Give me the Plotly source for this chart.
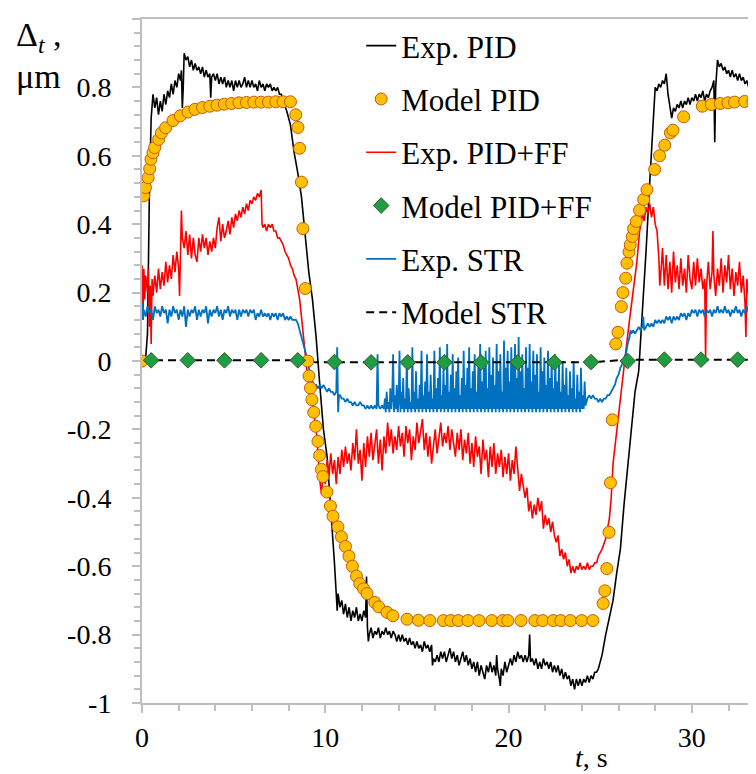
import plotly.graph_objects as go

# ---------------- data ----------------
x_tick_vals = [0, 10, 20, 30]
x_tick_text = ["0", "10", "20", "30"]
y_tick_vals = [-1, -0.8, -0.6, -0.4, -0.2, 0, 0.2, 0.4, 0.6, 0.8, 1]
y_tick_text = ["-1", "-0.8", "-0.6", "-0.4", "-0.2", "0", "0.2", "0.4", "0.6", "0.8", "1"]

# Exp. PID (black)  (t [s], delta [um])
exp_pid = [
    (0.0, 0.00), (0.1, 0.00), (0.2, 0.01), (0.3, 0.08), (0.4, 0.48), (0.5, 0.71), (0.6, 0.78),
    (0.7, 0.74), (0.8, 0.77), (0.9, 0.72), (1.0, 0.76), (1.1, 0.73), (1.2, 0.78), (1.3, 0.75),
    (1.4, 0.79), (1.5, 0.77), (1.6, 0.81), (1.7, 0.78), (1.8, 0.82), (1.9, 0.80), (2.0, 0.84),
    (2.1, 0.82), (2.15, 0.85), (2.2, 0.74), (2.25, 0.80), (2.3, 0.90), (2.4, 0.88), (2.5, 0.89),
    (2.6, 0.86), (2.7, 0.88), (2.8, 0.85), (2.9, 0.87), (3.0, 0.85), (3.1, 0.86), (3.2, 0.84),
    (3.3, 0.86), (3.4, 0.83), (3.5, 0.85), (3.6, 0.83), (3.7, 0.84), (3.75, 0.77), (3.8, 0.83),
    (3.9, 0.84), (4.0, 0.82), (4.1, 0.84), (4.2, 0.81), (4.3, 0.83), (4.4, 0.81), (4.5, 0.83),
    (4.6, 0.80), (4.7, 0.82), (4.8, 0.80), (4.9, 0.82), (5.0, 0.79), (5.1, 0.82), (5.2, 0.80),
    (5.3, 0.82), (5.4, 0.80), (5.5, 0.81), (5.6, 0.83), (5.7, 0.80), (5.8, 0.82), (5.9, 0.80),
    (6.0, 0.82), (6.1, 0.80), (6.2, 0.81), (6.3, 0.79), (6.4, 0.82), (6.5, 0.80), (6.6, 0.81),
    (6.7, 0.79), (6.8, 0.81), (6.9, 0.80), (7.0, 0.81), (7.1, 0.79), (7.2, 0.80), (7.3, 0.79),
    (7.4, 0.80), (7.5, 0.78), (7.6, 0.78),
    (7.7, 0.76), (7.9, 0.73), (8.1, 0.69), (8.3, 0.61), (8.5, 0.55), (8.7, 0.48), (8.9, 0.37),
    (9.1, 0.26), (9.3, 0.18), (9.5, 0.07), (9.7, -0.07), (9.9, -0.20), (10.1, -0.28),
    (10.3, -0.43), (10.5, -0.59), (10.65, -0.73),
    (10.7, -0.68), (10.8, -0.72), (10.9, -0.70), (11.0, -0.74), (11.1, -0.71), (11.2, -0.75),
    (11.3, -0.72), (11.4, -0.76), (11.5, -0.73), (11.6, -0.75), (11.7, -0.72), (11.8, -0.76),
    (11.9, -0.74), (12.0, -0.76), (12.1, -0.73), (12.2, -0.75), (12.25, -0.63), (12.3, -0.78),
    (12.35, -0.82),
    (12.4, -0.80), (12.5, -0.78), (12.6, -0.81), (12.7, -0.79), (12.8, -0.80), (12.9, -0.78),
    (13.0, -0.81), (13.1, -0.79), (13.2, -0.80), (13.3, -0.78), (13.4, -0.80), (13.5, -0.79),
    (13.6, -0.81), (13.7, -0.79), (13.8, -0.80), (13.9, -0.82), (14.0, -0.80), (14.1, -0.82),
    (14.2, -0.80), (14.3, -0.82), (14.4, -0.81), (14.5, -0.83), (14.6, -0.81), (14.7, -0.83),
    (14.8, -0.82), (14.9, -0.84), (15.0, -0.82), (15.1, -0.84), (15.2, -0.83), (15.3, -0.85),
    (15.4, -0.82), (15.5, -0.84), (15.6, -0.83), (15.7, -0.85), (15.8, -0.83), (15.85, -0.89),
    (15.9, -0.87), (16.0, -0.88), (16.1, -0.86), (16.2, -0.88), (16.3, -0.85), (16.4, -0.87),
    (16.5, -0.85), (16.6, -0.88), (16.7, -0.86), (16.8, -0.84), (16.9, -0.87), (17.0, -0.85),
    (17.1, -0.88), (17.2, -0.86), (17.3, -0.89), (17.4, -0.87), (17.5, -0.85), (17.6, -0.88),
    (17.7, -0.86), (17.8, -0.89), (17.9, -0.87), (18.0, -0.90), (18.1, -0.88), (18.2, -0.91),
    (18.3, -0.88), (18.4, -0.92), (18.5, -0.89), (18.6, -0.91), (18.7, -0.93), (18.8, -0.89),
    (18.9, -0.91), (19.0, -0.88), (19.1, -0.91), (19.2, -0.89), (19.3, -0.92), (19.35, -0.86),
    (19.4, -0.90), (19.5, -0.93), (19.55, -0.95), (19.6, -0.90), (19.7, -0.92), (19.8, -0.88),
    (19.9, -0.91), (20.0, -0.89), (20.1, -0.87), (20.2, -0.89), (20.3, -0.86), (20.4, -0.88),
    (20.5, -0.85), (20.6, -0.87), (20.7, -0.86), (20.8, -0.88), (20.9, -0.86), (21.0, -0.88),
    (21.1, -0.86), (21.15, -0.80), (21.2, -0.88), (21.3, -0.87), (21.4, -0.89), (21.5, -0.87),
    (21.6, -0.90), (21.7, -0.88), (21.8, -0.90), (21.9, -0.87), (22.0, -0.89), (22.1, -0.88),
    (22.2, -0.90), (22.3, -0.88), (22.4, -0.91), (22.5, -0.89), (22.6, -0.91), (22.7, -0.89),
    (22.8, -0.92), (22.9, -0.90), (23.0, -0.93), (23.1, -0.91), (23.2, -0.93), (23.3, -0.92),
    (23.4, -0.95), (23.5, -0.93), (23.6, -0.96), (23.7, -0.93), (23.8, -0.95), (23.9, -0.93),
    (24.0, -0.95), (24.1, -0.93), (24.2, -0.94), (24.3, -0.92), (24.4, -0.94), (24.5, -0.92),
    (24.6, -0.93), (24.7, -0.91), (24.8, -0.91),
    (24.9, -0.90), (25.0, -0.88), (25.1, -0.86), (25.3, -0.80), (25.5, -0.75), (25.7, -0.70),
    (25.9, -0.62), (26.1, -0.55), (26.3, -0.42), (26.5, -0.31), (26.7, -0.20), (26.9, -0.09),
    (27.1, -0.03), (27.3, 0.13), (27.5, 0.32), (27.7, 0.52), (27.85, 0.68), (27.95, 0.78),
    (28.0, 0.80), (28.1, 0.79), (28.2, 0.81), (28.3, 0.80), (28.4, 0.82), (28.5, 0.81),
    (28.6, 0.84), (28.7, 0.78), (28.8, 0.75), (28.9, 0.71), (29.0, 0.74), (29.1, 0.73),
    (29.2, 0.75), (29.3, 0.74), (29.4, 0.76), (29.5, 0.74), (29.6, 0.76), (29.7, 0.75),
    (29.8, 0.77), (29.9, 0.75), (30.0, 0.77), (30.1, 0.76), (30.2, 0.78), (30.3, 0.76),
    (30.4, 0.78), (30.5, 0.77), (30.6, 0.79), (30.7, 0.76), (30.8, 0.78), (30.9, 0.77),
    (31.0, 0.79), (31.1, 0.80), (31.2, 0.82), (31.25, 0.64), (31.3, 0.80), (31.4, 0.88),
    (31.5, 0.86), (31.6, 0.87), (31.7, 0.85), (31.8, 0.86), (31.9, 0.84), (32.0, 0.85),
    (32.1, 0.83), (32.2, 0.85), (32.3, 0.83), (32.4, 0.84), (32.5, 0.82), (32.6, 0.84),
    (32.7, 0.82), (32.8, 0.83), (32.9, 0.81), (33.0, 0.82), (33.1, 0.80), (33.2, 0.82),
    (33.3, 0.80), (33.4, 0.81), (33.5, 0.80),
]

# Model PID (orange circles)
model_pid = [
    (0.0, 0.0), (0.09, 0.483), (0.19, 0.507), (0.33, 0.536), (0.42, 0.562), (0.49, 0.590),
    (0.60, 0.609), (0.69, 0.624), (0.91, 0.648), (1.06, 0.667), (1.29, 0.682), (1.69, 0.703),
    (2.09, 0.717), (2.51, 0.728), (2.89, 0.736), (3.30, 0.741), (3.70, 0.745), (4.09, 0.748),
    (4.49, 0.751), (4.89, 0.753), (5.29, 0.755), (5.70, 0.756), (6.10, 0.757), (6.50, 0.757),
    (6.90, 0.757), (7.30, 0.758), (7.69, 0.758), (8.10, 0.758), (8.39, 0.720), (8.51, 0.683),
    (8.60, 0.622), (8.70, 0.523), (8.78, 0.387), (8.91, 0.212), (9.04, 0.000), (9.11, -0.044),
    (9.19, -0.079), (9.27, -0.113), (9.37, -0.150), (9.48, -0.191), (9.60, -0.235),
    (9.69, -0.276), (9.79, -0.317), (9.87, -0.338), (10.09, -0.383), (10.28, -0.424),
    (10.42, -0.454), (10.69, -0.485), (10.88, -0.514), (11.10, -0.542), (11.29, -0.571),
    (11.48, -0.600), (11.70, -0.629), (11.88, -0.651), (12.09, -0.666), (12.28, -0.680),
    (12.70, -0.706), (12.92, -0.719), (13.37, -0.735), (13.69, -0.745), (14.46, -0.755),
    (15.08, -0.758), (15.70, -0.759), (16.44, -0.759), (16.85, -0.759), (17.26, -0.759),
    (17.78, -0.759), (18.39, -0.759), (19.08, -0.759), (19.68, -0.759), (19.96, -0.759),
    (20.68, -0.759), (21.43, -0.759), (21.86, -0.759), (22.44, -0.759), (22.85, -0.759),
    (23.37, -0.759), (23.99, -0.759), (24.60, -0.759), (25.16, -0.709), (25.25, -0.672),
    (25.36, -0.607), (25.48, -0.501), (25.56, -0.356), (25.66, -0.172), (25.85, 0.050),
    (25.97, 0.084), (26.15, 0.159), (26.24, 0.200), (26.39, 0.242), (26.46, 0.286),
    (26.57, 0.319), (26.64, 0.340), (26.75, 0.364), (26.82, 0.387), (26.97, 0.408),
    (27.15, 0.441), (27.37, 0.472), (27.55, 0.501), (27.97, 0.560), (28.24, 0.600),
    (28.52, 0.631), (28.83, 0.667), (28.97, 0.675), (29.55, 0.714), (30.57, 0.745),
    (31.06, 0.750), (31.55, 0.753), (31.97, 0.755), (32.33, 0.757), (32.88, 0.759),
    (33.33, 0.759),
]

# Exp. PID+FF (red)
exp_pidff = [
    (0.0, 0.28), (0.05, 0.12), (0.1, 0.27), (0.15, 0.18), (0.2, 0.25), (0.3, 0.20), (0.35, 0.27),
    (0.4, 0.10), (0.45, 0.22), (0.5, 0.05), (0.55, 0.24), (0.6, 0.19), (0.7, 0.25), (0.8, 0.20),
    (0.9, 0.27), (1.0, 0.21), (1.1, 0.26), (1.2, 0.22), (1.3, 0.29), (1.4, 0.23), (1.5, 0.28),
    (1.6, 0.24), (1.7, 0.31), (1.8, 0.26), (1.9, 0.32), (2.0, 0.27), (2.05, 0.19), (2.1, 0.30),
    (2.15, 0.44), (2.2, 0.36), (2.3, 0.33), (2.4, 0.38), (2.5, 0.31), (2.6, 0.37), (2.7, 0.30),
    (2.8, 0.36), (2.9, 0.31), (3.0, 0.29), (3.1, 0.36), (3.2, 0.32), (3.3, 0.37), (3.4, 0.33),
    (3.5, 0.36), (3.6, 0.31), (3.7, 0.35), (3.8, 0.32), (3.9, 0.36), (4.0, 0.33), (4.1, 0.39),
    (4.2, 0.42), (4.3, 0.35), (4.4, 0.40), (4.5, 0.36), (4.6, 0.38), (4.7, 0.41), (4.8, 0.37),
    (4.9, 0.42), (5.0, 0.39), (5.1, 0.43), (5.2, 0.41), (5.3, 0.44), (5.4, 0.42), (5.5, 0.45),
    (5.6, 0.43), (5.7, 0.46), (5.8, 0.44), (5.9, 0.47), (6.0, 0.46), (6.1, 0.48), (6.2, 0.47),
    (6.3, 0.49), (6.4, 0.48), (6.5, 0.50), (6.55, 0.40),
    (6.6, 0.39), (6.7, 0.40), (6.8, 0.38), (6.9, 0.40), (7.0, 0.39), (7.1, 0.40), (7.2, 0.38),
    (7.3, 0.38), (7.4, 0.36), (7.5, 0.36), (7.6, 0.35), (7.7, 0.34), (7.8, 0.32), (7.9, 0.31),
    (8.0, 0.30), (8.1, 0.28), (8.2, 0.27), (8.3, 0.25), (8.4, 0.24), (8.5, 0.21), (8.6, 0.18),
    (8.7, 0.13), (8.8, 0.07), (8.9, 0.01), (9.0, -0.03), (9.1, -0.06), (9.2, -0.10),
    (9.3, -0.12), (9.4, -0.16), (9.5, -0.20), (9.6, -0.27), (9.7, -0.35), (9.8, -0.39),
    (9.9, -0.30), (10.0, -0.36), (10.1, -0.29), (10.2, -0.34), (10.3, -0.27), (10.4, -0.33),
    (10.5, -0.29), (10.6, -0.36), (10.7, -0.28), (10.8, -0.33), (10.9, -0.26), (11.0, -0.31),
    (11.1, -0.25), (11.2, -0.30), (11.3, -0.27), (11.4, -0.32), (11.5, -0.24), (11.6, -0.29),
    (11.7, -0.20), (11.8, -0.30), (11.9, -0.26), (12.0, -0.35), (12.1, -0.24), (12.2, -0.31),
    (12.3, -0.22), (12.4, -0.28), (12.5, -0.21), (12.6, -0.29), (12.7, -0.24), (12.8, -0.20),
    (12.9, -0.30), (13.0, -0.23), (13.1, -0.32), (13.2, -0.22), (13.3, -0.27), (13.4, -0.18),
    (13.5, -0.25), (13.6, -0.20), (13.7, -0.27), (13.8, -0.22), (13.9, -0.26), (14.0, -0.19),
    (14.1, -0.25), (14.2, -0.21), (14.3, -0.28), (14.4, -0.19), (14.5, -0.24), (14.6, -0.20),
    (14.7, -0.29), (14.8, -0.22), (14.9, -0.26), (15.0, -0.18), (15.1, -0.24), (15.2, -0.20),
    (15.3, -0.17), (15.4, -0.26), (15.5, -0.21), (15.6, -0.28), (15.7, -0.22), (15.8, -0.30),
    (15.9, -0.24), (16.0, -0.20), (16.1, -0.27), (16.2, -0.22), (16.3, -0.18), (16.4, -0.25),
    (16.5, -0.21), (16.6, -0.24), (16.7, -0.19), (16.8, -0.26), (16.9, -0.20), (17.0, -0.24),
    (17.1, -0.28), (17.2, -0.21), (17.3, -0.26), (17.4, -0.20), (17.5, -0.29), (17.6, -0.23),
    (17.7, -0.27), (17.8, -0.21), (17.9, -0.30), (18.0, -0.24), (18.1, -0.31), (18.2, -0.22),
    (18.3, -0.28), (18.4, -0.25), (18.5, -0.33), (18.6, -0.23), (18.7, -0.29), (18.8, -0.26),
    (18.9, -0.34), (19.0, -0.25), (19.1, -0.31), (19.2, -0.24), (19.3, -0.33), (19.4, -0.27),
    (19.5, -0.31), (19.6, -0.26), (19.7, -0.34), (19.8, -0.28), (19.9, -0.33), (20.0, -0.27),
    (20.1, -0.35), (20.2, -0.29), (20.3, -0.33), (20.4, -0.25), (20.5, -0.32), (20.6, -0.38),
    (20.7, -0.33), (20.8, -0.36), (20.9, -0.40), (21.0, -0.37), (21.1, -0.44), (21.2, -0.41),
    (21.3, -0.46), (21.4, -0.42), (21.5, -0.45), (21.6, -0.40), (21.7, -0.44), (21.8, -0.41),
    (21.9, -0.49), (22.0, -0.45), (22.1, -0.48), (22.2, -0.46), (22.3, -0.50), (22.4, -0.47),
    (22.5, -0.51), (22.6, -0.53), (22.7, -0.51), (22.8, -0.57), (22.9, -0.55), (23.0, -0.58),
    (23.1, -0.56), (23.2, -0.60), (23.3, -0.58), (23.4, -0.62), (23.5, -0.60), (23.6, -0.62),
    (23.7, -0.60), (23.8, -0.61), (23.9, -0.59), (24.0, -0.61), (24.1, -0.60), (24.2, -0.61),
    (24.3, -0.59), (24.4, -0.61), (24.5, -0.60), (24.6, -0.60), (24.7, -0.59), (24.8, -0.59),
    (24.9, -0.57), (25.1, -0.55), (25.3, -0.52), (25.5, -0.46), (25.6, -0.40), (25.7, -0.30),
    (25.8, -0.25), (26.0, -0.15), (26.2, -0.07), (26.4, 0.03), (26.6, 0.12), (26.8, 0.20),
    (27.0, 0.29), (27.15, 0.38), (27.3, 0.43), (27.4, 0.41), (27.5, 0.45), (27.6, 0.43),
    (27.7, 0.46), (27.8, 0.42), (27.9, 0.45), (28.0, 0.40), (28.1, 0.38), (28.2, 0.30),
    (28.25, 0.22), (28.3, 0.25), (28.4, 0.33), (28.5, 0.22), (28.6, 0.31), (28.7, 0.21),
    (28.8, 0.29), (28.9, 0.20), (29.0, 0.32), (29.1, 0.23), (29.2, 0.28), (29.3, 0.21),
    (29.4, 0.30), (29.5, 0.22), (29.6, 0.27), (29.7, 0.20), (29.8, 0.31), (29.9, 0.24),
    (30.0, 0.21), (30.1, 0.29), (30.2, 0.22), (30.3, 0.30), (30.4, 0.23), (30.5, 0.27),
    (30.6, 0.21), (30.7, 0.24), (30.75, 0.01), (30.8, 0.22), (30.9, 0.29), (31.0, 0.21),
    (31.1, 0.26), (31.15, 0.38), (31.2, 0.25), (31.3, 0.19), (31.4, 0.27), (31.5, 0.22),
    (31.6, 0.30), (31.7, 0.20), (31.8, 0.28), (31.9, 0.23), (32.0, 0.31), (32.1, 0.21),
    (32.2, 0.27), (32.3, 0.19), (32.4, 0.26), (32.5, 0.22), (32.6, 0.29), (32.7, 0.20),
    (32.8, 0.25), (32.9, 0.17), (32.95, 0.07), (33.0, 0.24), (33.1, 0.19), (33.2, 0.27),
    (33.3, 0.21), (33.4, 0.26), (33.5, 0.22),
]

# Model PID+FF (green diamonds)
model_pidff_t = [0.5, 2.5, 4.5, 6.5, 8.5, 10.5, 12.5, 14.5, 16.5, 18.5, 20.5, 22.5, 24.5,
                 26.5, 28.5, 30.5, 32.5]
model_pidff_y = [0.002, 0.002, 0.002, 0.002, 0.002, -0.003, -0.004, -0.004, -0.004, -0.004,
                 -0.004, -0.004, -0.003, 0.000, 0.004, 0.004, 0.004]

# Exp. STR (blue)
exp_str = [
    (0.0, 0.17), (0.05, 0.12), (0.1, 0.15), (0.2, 0.13), (0.3, 0.16), (0.4, 0.14), (0.5, 0.15),
    (0.6, 0.12), (0.7, 0.16), (0.8, 0.14), (0.9, 0.15), (1.0, 0.13), (1.1, 0.16), (1.2, 0.14),
    (1.3, 0.15), (1.4, 0.11), (1.5, 0.15), (1.6, 0.13), (1.7, 0.16), (1.8, 0.14), (1.9, 0.15),
    (2.0, 0.12), (2.1, 0.15), (2.2, 0.13), (2.3, 0.16), (2.4, 0.10), (2.5, 0.15), (2.6, 0.13),
    (2.7, 0.15), (2.8, 0.14), (2.9, 0.16), (3.0, 0.12), (3.1, 0.15), (3.2, 0.13), (3.3, 0.15),
    (3.4, 0.14), (3.5, 0.16), (3.6, 0.11), (3.7, 0.15), (3.8, 0.13), (3.9, 0.15), (4.0, 0.14),
    (4.1, 0.16), (4.2, 0.13), (4.3, 0.15), (4.4, 0.12), (4.5, 0.15), (4.6, 0.14), (4.7, 0.16),
    (4.8, 0.13), (4.9, 0.15), (5.0, 0.14), (5.1, 0.15), (5.2, 0.12), (5.3, 0.15), (5.4, 0.13),
    (5.5, 0.15), (5.6, 0.14), (5.7, 0.15), (5.8, 0.13), (5.9, 0.15), (6.0, 0.14), (6.1, 0.15),
    (6.2, 0.12), (6.3, 0.14), (6.4, 0.13), (6.5, 0.15), (6.6, 0.13), (6.7, 0.14), (6.8, 0.13),
    (6.9, 0.14), (7.0, 0.12), (7.1, 0.14), (7.2, 0.13), (7.3, 0.14), (7.4, 0.12), (7.5, 0.14),
    (7.6, 0.13), (7.7, 0.14), (7.8, 0.12), (7.9, 0.13), (8.0, 0.12), (8.1, 0.13), (8.2, 0.12),
    (8.3, 0.12), (8.4, 0.12), (8.5, 0.11), (8.6, 0.09), (8.7, 0.07), (8.8, 0.05), (8.9, 0.03),
    (9.0, 0.01), (9.1, -0.02), (9.2, -0.04), (9.3, -0.06), (9.4, -0.07), (9.5, -0.07),
    (9.6, -0.08), (9.7, -0.07), (9.8, -0.08), (9.9, -0.07), (10.0, -0.08), (10.1, -0.09),
    (10.2, -0.08), (10.3, -0.09), (10.4, -0.09), (10.5, -0.10), (10.6, -0.09), (10.65, 0.04),
    (10.7, -0.15), (10.75, -0.10), (10.8, -0.10), (10.9, -0.11), (11.0, -0.11), (11.1, -0.12),
    (11.2, -0.11), (11.3, -0.12), (11.4, -0.12), (11.5, -0.13), (11.6, -0.12), (11.7, -0.13),
    (11.8, -0.13), (11.9, -0.12), (12.0, -0.13), (12.1, -0.13), (12.2, -0.14), (12.3, -0.13),
    (12.4, -0.14), (12.5, -0.13), (12.6, -0.14), (12.7, -0.13), (12.8, -0.14), (12.85, 0.02),
    (12.9, -0.13), (13.0, -0.14), (13.1, -0.13),
    (13.20, -0.14), (13.25, -0.11), (13.30, -0.15), (13.35, -0.09), (13.40, -0.14),
    (13.45, -0.12), (13.50, -0.15), (13.55, -0.08), (13.60, -0.14), (13.65, -0.11),
    (13.70, 0.02), (13.75, -0.15), (13.80, -0.10), (13.85, -0.14), (13.90, -0.07),
    (13.95, -0.15), (14.00, -0.12), (14.05, 0.03), (14.10, -0.15), (14.15, -0.09),
    (14.20, -0.14), (14.25, -0.05), (14.30, -0.15), (14.35, -0.11), (14.40, -0.14),
    (14.45, 0.01), (14.50, -0.15), (14.55, -0.08), (14.60, -0.14), (14.65, -0.12),
    (14.70, -0.15), (14.75, 0.04), (14.80, -0.14), (14.85, -0.09), (14.90, -0.15),
    (14.95, -0.03), (15.00, -0.14), (15.05, -0.11), (15.10, -0.15), (15.15, -0.07),
    (15.20, -0.14), (15.25, 0.03), (15.30, -0.15), (15.35, -0.10), (15.40, -0.14),
    (15.45, -0.06), (15.50, -0.15), (15.55, 0.02), (15.60, -0.14), (15.65, -0.09),
    (15.70, -0.15), (15.75, -0.04), (15.80, -0.14), (15.85, -0.11), (15.90, -0.15),
    (15.95, 0.03), (16.00, -0.14), (16.05, -0.08), (16.10, -0.15), (16.15, -0.05),
    (16.20, -0.14), (16.25, 0.04), (16.30, -0.15), (16.35, -0.10), (16.40, -0.14),
    (16.45, -0.02), (16.50, -0.15), (16.55, -0.07), (16.60, -0.14), (16.65, 0.05),
    (16.70, -0.15), (16.75, -0.09), (16.80, -0.14), (16.85, -0.04), (16.90, -0.15),
    (16.95, 0.02), (17.00, -0.14), (17.05, -0.08), (17.10, -0.15), (17.15, -0.03),
    (17.20, -0.14), (17.25, 0.01), (17.30, -0.15), (17.35, -0.10), (17.40, -0.14),
    (17.45, -0.05), (17.50, -0.15), (17.55, 0.03), (17.60, -0.14), (17.65, -0.07),
    (17.70, -0.15), (17.75, -0.02), (17.80, -0.14), (17.85, 0.04), (17.90, -0.15),
    (17.95, -0.08), (18.00, -0.14), (18.05, -0.03), (18.10, -0.15), (18.15, 0.02),
    (18.20, -0.14), (18.25, -0.09), (18.30, -0.15), (18.35, -0.01), (18.40, -0.14),
    (18.45, 0.05), (18.50, -0.15), (18.55, -0.06), (18.60, -0.14), (18.65, -0.02),
    (18.70, -0.15), (18.75, 0.03), (18.80, -0.14), (18.85, -0.08), (18.90, -0.15),
    (18.95, 0.04), (19.00, -0.14), (19.05, -0.04), (19.10, -0.15), (19.15, 0.01),
    (19.20, -0.14), (19.25, -0.07), (19.30, -0.15), (19.35, 0.05), (19.40, -0.14),
    (19.45, -0.03), (19.50, -0.15), (19.55, 0.02), (19.60, -0.14), (19.65, -0.09),
    (19.70, -0.15), (19.75, 0.06), (19.80, -0.14), (19.85, -0.02), (19.90, -0.15),
    (19.95, 0.03), (20.00, -0.14), (20.05, -0.06), (20.10, -0.15), (20.15, 0.04),
    (20.20, -0.14), (20.25, -0.01), (20.30, -0.15), (20.35, 0.05), (20.40, -0.14),
    (20.45, -0.05), (20.50, -0.15), (20.55, 0.07), (20.60, -0.14), (20.65, -0.03),
    (20.70, -0.15), (20.75, 0.02), (20.80, -0.14), (20.85, -0.08), (20.90, -0.15),
    (20.95, 0.04), (21.00, -0.14), (21.05, -0.02), (21.10, -0.15), (21.15, 0.05),
    (21.20, -0.14), (21.25, -0.06), (21.30, -0.15), (21.35, 0.03), (21.40, -0.14),
    (21.45, -0.04), (21.50, -0.15), (21.55, 0.02), (21.60, -0.14), (21.65, -0.09),
    (21.70, -0.15), (21.75, 0.04), (21.80, -0.14), (21.85, -0.03), (21.90, -0.15),
    (21.95, 0.01), (22.00, -0.14), (22.05, -0.07), (22.10, -0.15), (22.15, 0.03),
    (22.20, -0.14), (22.25, -0.05), (22.30, -0.15), (22.35, 0.01), (22.40, -0.14),
    (22.45, -0.08), (22.50, -0.15), (22.55, 0.02), (22.60, -0.14), (22.65, -0.06),
    (22.70, -0.15), (22.75, -0.01), (22.80, -0.14), (22.85, -0.09), (22.90, -0.15),
    (22.95, 0.00), (23.00, -0.14), (23.05, -0.07), (23.10, -0.15), (23.15, -0.02),
    (23.20, -0.14), (23.25, -0.10), (23.30, -0.15), (23.35, -0.03), (23.40, -0.14),
    (23.45, -0.08), (23.50, -0.15), (23.55, 0.00), (23.60, -0.14), (23.65, -0.11),
    (23.70, -0.15), (23.75, -0.04), (23.80, -0.14), (23.85, -0.09), (23.90, -0.15),
    (23.95, -0.02), (24.00, -0.14), (24.05, -0.10), (24.10, -0.14), (24.15, -0.06),
    (24.20, -0.13),
    (24.3, -0.11), (24.4, -0.10), (24.5, -0.11), (24.6, -0.10), (24.7, -0.11), (24.8, -0.11),
    (24.9, -0.12), (25.0, -0.11), (25.1, -0.12), (25.2, -0.11), (25.3, -0.11), (25.4, -0.10),
    (25.5, -0.10), (25.6, -0.09), (25.7, -0.08), (25.8, -0.07), (25.9, -0.05), (26.0, -0.04),
    (26.1, -0.02), (26.2, -0.01), (26.3, 0.01), (26.4, 0.02), (26.5, 0.05), (26.6, 0.07),
    (26.65, 0.09), (26.7, 0.08), (26.8, 0.09), (26.9, 0.08), (27.0, 0.09), (27.1, 0.10),
    (27.2, 0.09), (27.3, 0.10), (27.35, 0.13), (27.4, 0.09), (27.5, 0.10), (27.6, 0.11),
    (27.7, 0.10), (27.8, 0.11), (27.9, 0.10), (28.0, 0.12), (28.1, 0.11), (28.2, 0.12),
    (28.3, 0.11), (28.4, 0.12), (28.5, 0.11), (28.6, 0.13), (28.7, 0.12), (28.8, 0.13),
    (28.9, 0.11), (29.0, 0.13), (29.1, 0.12), (29.2, 0.13), (29.3, 0.12), (29.4, 0.14),
    (29.5, 0.13), (29.6, 0.14), (29.7, 0.12), (29.8, 0.14), (29.9, 0.13), (30.0, 0.15),
    (30.1, 0.14), (30.2, 0.15), (30.3, 0.13), (30.4, 0.15), (30.5, 0.14), (30.6, 0.15),
    (30.7, 0.13), (30.8, 0.15), (30.9, 0.14), (31.0, 0.15), (31.1, 0.13), (31.2, 0.15),
    (31.3, 0.14), (31.4, 0.16), (31.5, 0.14), (31.6, 0.15), (31.7, 0.14), (31.8, 0.16),
    (31.9, 0.14), (32.0, 0.15), (32.1, 0.13), (32.2, 0.15), (32.3, 0.14), (32.4, 0.16),
    (32.5, 0.14), (32.6, 0.15), (32.7, 0.13), (32.8, 0.15), (32.9, 0.14), (33.0, 0.16),
    (33.1, 0.14), (33.2, 0.15), (33.3, 0.14), (33.4, 0.16), (33.5, 0.15),
]

# Model STR (dashed black)
model_str_t = [0.0, 8.5, 9.5, 24.5, 26.5, 33.5]
model_str_y = [0.002, 0.002, -0.004, -0.004, 0.004, 0.004]

# ---------------- figure ----------------
FONT = "Liberation Serif, Times New Roman, Times, serif"
AXIS_GREY = "#bfbfbf"


def unzip(pairs):
    return [p[0] for p in pairs], [p[1] for p in pairs]


fig = go.Figure()

t, y = unzip(exp_pid)
fig.add_trace(go.Scatter(x=t, y=y, mode="lines", name="Exp. PID",
                         line=dict(color="#000000", width=1.6),
                         legendgroup="g1", legendrank=1))
t, y = unzip(exp_pidff)
fig.add_trace(go.Scatter(x=t, y=y, mode="lines", name="Exp. PID+FF",
                         line=dict(color="#ff0000", width=1.6),
                         legendgroup="g3", legendrank=3))
t, y = unzip(exp_str)
fig.add_trace(go.Scatter(x=t, y=y, mode="lines", name="Exp. STR",
                         line=dict(color="#0070c0", width=1.8),
                         legendgroup="g5", legendrank=5))
fig.add_trace(go.Scatter(x=model_str_t, y=model_str_y, mode="lines", name="Model STR",
                         line=dict(color="#000000", width=2, dash="8px,5px"),
                         legendgroup="g6", legendrank=6))
t, y = unzip(model_pid)
fig.add_trace(go.Scatter(x=t, y=y, mode="markers", name="Model PID",
                         marker=dict(symbol="circle", size=12, color="#ffc000",
                                     line=dict(color="#c55a11", width=1)),
                         legendgroup="g2", legendrank=2))
fig.add_trace(go.Scatter(x=model_pidff_t, y=model_pidff_y, mode="markers", name="Model PID+FF",
                         marker=dict(symbol="diamond", size=12, color="#1f9d44",
                                     line=dict(color="#385723", width=1)),
                         legendgroup="g4", legendrank=4))

axis_common = dict(
    showgrid=False, zeroline=False, showline=True, linecolor=AXIS_GREY, linewidth=2,
    ticks="outside", ticklen=8, tickwidth=1.5, tickcolor=AXIS_GREY,
    tickfont=dict(family=FONT, size=28, color="#000000"),
)

# the page body adds an 8 px offset, so margins are set relative to that
fig.update_layout(
    width=756, height=774,
    margin=dict(l=134, r=8, t=11, b=79, autoexpand=False),
    paper_bgcolor="#ffffff", plot_bgcolor="#ffffff",
    font=dict(family=FONT, color="#000000"),
    showlegend=True,
    legend=dict(
        x=0.357, y=1.0, xanchor="left", yanchor="top",
        font=dict(family=FONT, size=31, color="#000000"),
        bgcolor="rgba(255,255,255,0)", borderwidth=0,
        traceorder="grouped", tracegroupgap=10, itemwidth=30,
    ),
    xaxis=dict(range=[0, 33.5], tickmode="array", tickvals=x_tick_vals, ticktext=x_tick_text,
               minor=dict(dtick=2, tick0=0, ticks="outside", ticklen=6, tickwidth=1.5,
                          tickcolor=AXIS_GREY, showgrid=False),
               mirror=True, ticklabelstandoff=0, **axis_common),
    yaxis=dict(range=[-1, 1], tickmode="array", tickvals=y_tick_vals, ticktext=y_tick_text,
               minor=dict(dtick=0.04, tick0=0, ticks="outside", ticklen=6, tickwidth=1.5,
                          tickcolor=AXIS_GREY, showgrid=False),
               ticklabelstandoff=15, **axis_common),
    annotations=[
        dict(text="\u0394<sub><i>t</i></sub> ,", xref="paper", yref="paper", x=0, y=1,
             xanchor="left", yanchor="top", xshift=-128, yshift=5, showarrow=False,
             font=dict(family=FONT, size=34, color="#000000")),
        dict(text="\u03bcm", xref="paper", yref="paper", x=0, y=1,
             xanchor="left", yanchor="top", xshift=-128, yshift=-37, showarrow=False,
             font=dict(family=FONT, size=34, color="#000000")),
        dict(text="<i>t</i>, s", xref="x", yref="paper", x=24.55, y=0,
             xanchor="center", yanchor="top", yshift=-38, showarrow=False, borderpad=0,
             font=dict(family=FONT, size=28, color="#000000")),
    ],
)

fig.write_html("out.html")
